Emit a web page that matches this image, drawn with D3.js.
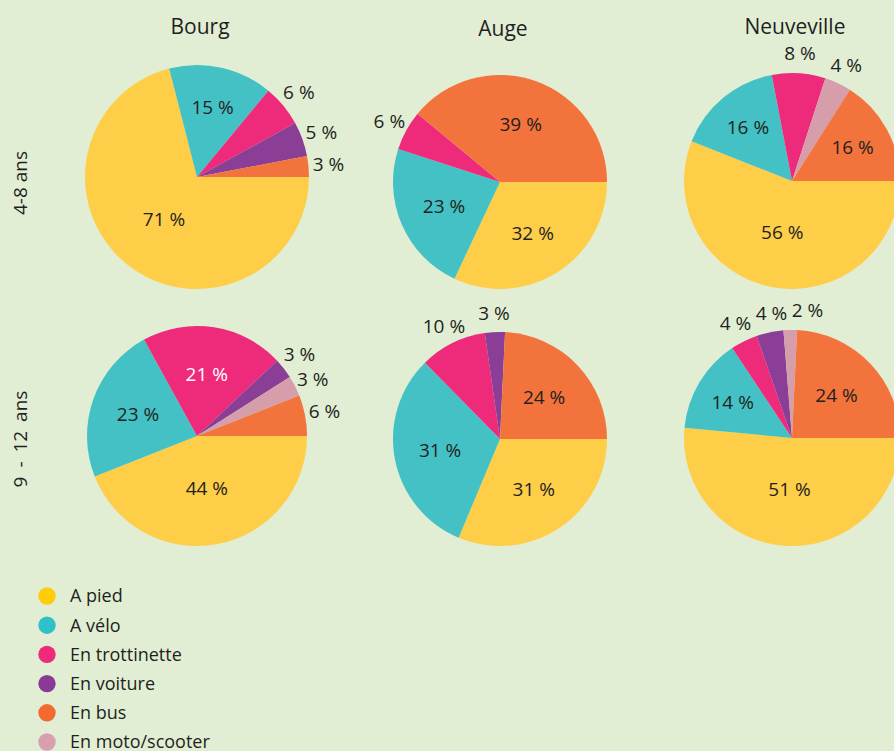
<!DOCTYPE html>
<html>
<head>
<meta charset="utf-8">
<script src="https://cdn.jsdelivr.net/npm/d3@7"></script>
<style>
  body { margin: 0; background: #e1eed4; }
  svg { display: block; }
  text { font-family: "Open Sans", "Noto Sans", sans-serif; fill: #231f20; }
</style>
</head>
<body>
<svg id="chart" width="894" height="751"></svg>
<script>
// modes de transport
const modes = ["A pied", "A vélo", "En trottinette", "En voiture", "En bus", "En moto/scooter"];
const villes = ["Bourg", "Auge", "Neuveville"];
const ages = ["4-8 ans", "9 - 12 ans"];

// values per pie, in mode order: pied, vélo, trottinette, voiture, bus, moto
const bourg48 = [71, 15, 6, 5, 3, 0];
const auge48 = [32, 23, 6, 0, 39, 0];
const neuveville48 = [56, 16, 8, 0, 16, 4];
const bourg912 = [44, 23, 21, 3, 6, 3];
const auge912 = [31, 31, 10, 3, 24, 0];
const neuveville912 = [51, 14, 4, 4, 24, 2];

const pies = [
  [bourg48, auge48, neuveville48],
  [bourg912, auge912, neuveville912]
];

// drawing order round the pie (clockwise from 3 o'clock)
const sliceOrder = ["A pied", "A vélo", "En trottinette", "En voiture", "En moto/scooter", "En bus"];

const colors = d3.scaleOrdinal()
  .domain(modes)
  .range(["#ffce48", "#43c1c4", "#ee2a7b", "#8a3e96", "#f3733c", "#d69dab"]);
const legendColors = d3.scaleOrdinal()
  .domain(modes)
  .range(["#ffcc0a", "#30c0c8", "#ee2a7b", "#8a3a96", "#f46a2e", "#d8a0ae"]);

const svg = d3.select("#chart");

// layout: pies of a row sit on the same bottom line
const colX = [197, 500, 792];
const rowBottom = [289, 546];
const rowMid = [183, 439];
const radii = [[112, 107, 108], [110, 107, 108]];

// column titles
svg.selectAll(".title")
  .data(villes)
  .enter().append("text")
  .attr("class", "title")
  .attr("x", (d, i) => colX[i] + 3)
  .attr("y", (d, i) => i == 1 ? 36 : 34)
  .attr("text-anchor", "middle")
  .style("font-size", "21px")
  .text(d => d);

// row labels
svg.selectAll(".age")
  .data(ages)
  .enter().append("text")
  .attr("class", "age")
  .attr("transform", (d, i) => "translate(27," + rowMid[i] + ") rotate(-90)")
  .attr("text-anchor", "middle")
  .style("font-size", "19px")
  .style("word-spacing", (d, i) => i == 1 ? "4px" : "0px")
  .text(d => d);

const pie = d3.pie()
  .sort(null)
  .value(d => d.value)
  .startAngle(Math.PI / 2)
  .endAngle(Math.PI / 2 + 2 * Math.PI);

// label distance from centre, as a share of the radius
function labelRatio(v) {
  if (v >= 40) return 0.48;
  if (v >= 20) return 0.57;
  if (v > 10) return 0.64;
  return 1.18;
}

pies.forEach((row, r) => {
  row.forEach((vals, c) => {
    let radius = radii[r][c];
    let data = sliceOrder.map(m => ({mode: m, value: vals[modes.indexOf(m)]}))
      .filter(d => d.value > 0);

    let g = svg.append("g")
      .attr("transform", "translate(" + colX[c] + "," + (rowBottom[r] - radius) + ")");

    let arc = d3.arc().innerRadius(0).outerRadius(radius);

    let slices = pie(data);

    g.selectAll("path")
      .data(slices)
      .enter().append("path")
      .attr("d", arc)
      .style("fill", d => colors(d.data.mode));

    // label positions, outside labels nudged apart when they collide
    let pos = slices.map(d => {
      let k = radius * labelRatio(d.data.value);
      return d3.arc().innerRadius(k).outerRadius(k).centroid(d);
    });
    for (let i = 1; i < pos.length; i++) {
      if (slices[i].data.value > 10 || slices[i - 1].data.value > 10) continue;
      let prev = pos[i - 1], cur = pos[i];
      let dx = cur[0] - prev[0], dy = cur[1] - prev[1];
      if (Math.abs(dy) < 18 && dx < 36) {
        cur[0] = prev[0] + 36;
      } else if (Math.abs(dx) < 34 && Math.abs(dy) < 25) {
        let gap = (25 - Math.abs(dy)) / 2 * Math.sign(dy);
        prev[1] -= gap;
        cur[1] += gap;
      }
    }

    g.selectAll(".lbl")
      .data(slices)
      .enter().append("text")
      .attr("class", "lbl")
      .attr("transform", (d, i) => "translate(" + pos[i] + ")")
      .attr("text-anchor", "middle")
      .attr("dy", "0.35em")
      .style("font-size", "19px")
      .style("fill", d => d.data.mode == "En trottinette" && d.data.value > 10 ? "#ffffff" : "#231f20")
      .text(d => d.data.value + " %");
  });
});

// legend
let legend = svg.selectAll(".legend")
  .data(modes)
  .enter().append("g")
  .attr("class", "legend")
  .attr("transform", (d, i) => "translate(47," + (596 + i * 29.2) + ")");

legend.append("circle")
  .attr("r", 8.7)
  .style("fill", d => legendColors(d));

legend.append("text")
  .attr("x", 23)
  .attr("dy", "0.35em")
  .style("font-size", "18px")
  .text(d => d);
</script>
</body>
</html>
